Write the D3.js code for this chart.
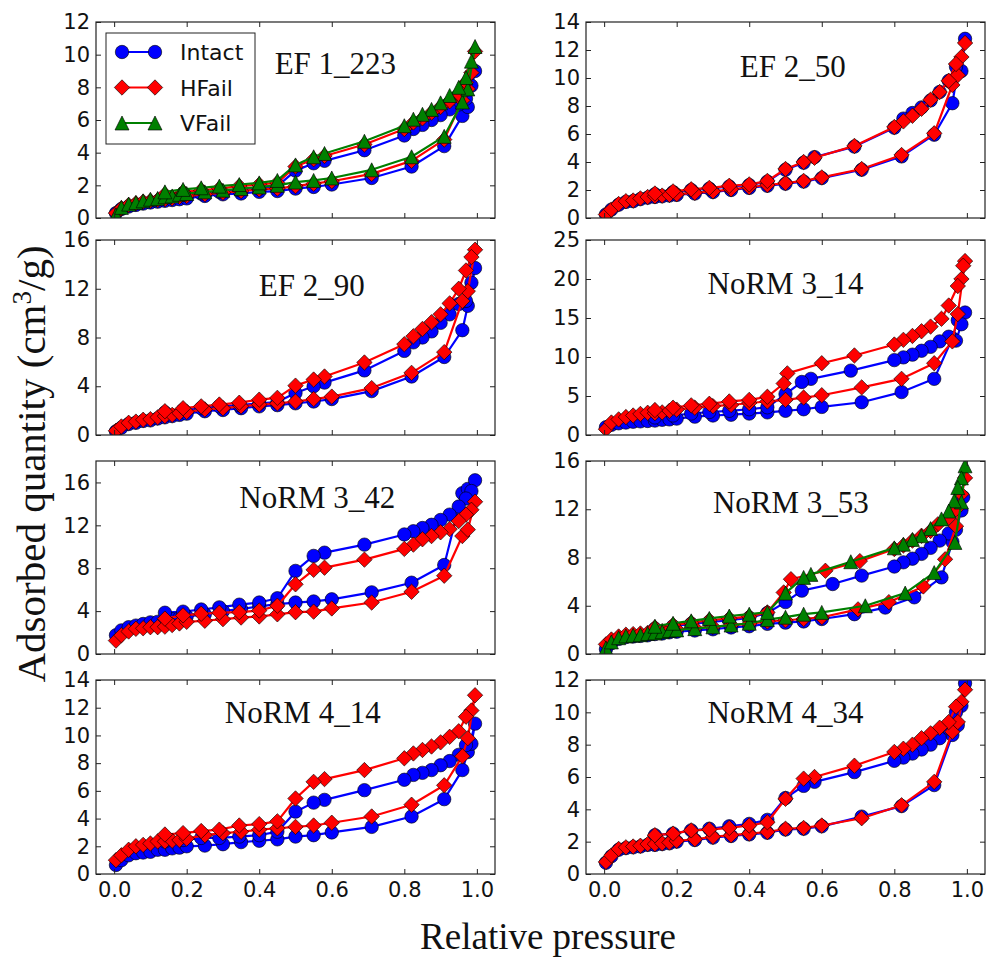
<!DOCTYPE html>
<html>
<head>
<meta charset="utf-8">
<script src="https://cdn.jsdelivr.net/npm/d3@7"></script>
<style>
  html, body { margin: 0; padding: 0; background: #fff; }
  svg { display: block; }
</style>
</head>
<body>
<svg id="chart" width="987" height="967"></svg>
<script>
// ---------- data ----------
const seriesNames = ["Intact", "HFail", "VFail"];
const panelNames = ["EF 1_223", "EF 2_50", "EF 2_90", "NoRM 3_14", "NoRM 3_42", "NoRM 3_53", "NoRM 4_14", "NoRM 4_34"];
const yMaxes = [12, 14, 16, 25, 18, 16, 14, 12];
const yTickSteps = [2, 2, 4, 5, 4, 4, 2, 2];
const yTickTops = [12, 14, 16, 25, 16, 16, 14, 12];
const xTickValues = [0.0, 0.2, 0.4, 0.6, 0.8, 1.0];

// relative pressure grids (adsorption then desorption)
const ADS_P = [0.005, 0.02, 0.04, 0.06, 0.08, 0.10, 0.12, 0.14, 0.16, 0.18, 0.20, 0.25, 0.30, 0.35, 0.40, 0.45, 0.50, 0.55, 0.60, 0.71, 0.82, 0.91, 0.96, 0.975, 0.995];
const DES_P = [0.985, 0.97, 0.95, 0.925, 0.90, 0.875, 0.85, 0.825, 0.80, 0.69, 0.58, 0.55, 0.50, 0.45, 0.40, 0.345, 0.29, 0.24, 0.19, 0.14];

// adsorbed quantity, cm3/g
const EF1_223 = {
  Intact: { ads: [0.3, 0.55, 0.7, 0.8, 0.88, 0.95, 1.0, 1.05, 1.1, 1.15, 1.2, 1.35, 1.45, 1.5, 1.6, 1.65, 1.8, 1.9, 2.05, 2.45, 3.15, 4.4, 6.25, 6.8, 9.0],
            des: [8.1, 7.3, 6.95, 6.65, 6.3, 6.0, 5.7, 5.45, 5.05, 4.15, 3.5, 3.35, 2.9, 1.95, 1.8, 1.7, 1.6, 1.5, 1.4, 1.25] },
  HFail:  { ads: [0.3, 0.6, 0.8, 0.9, 1.0, 1.05, 1.1, 1.15, 1.2, 1.3, 1.35, 1.45, 1.55, 1.65, 1.75, 1.8, 1.95, 2.1, 2.25, 2.7, 3.5, 4.8, 7.2, 7.9, 10.2],
            des: [8.9, 8.3, 7.6, 7.15, 6.8, 6.45, 6.1, 5.85, 5.45, 4.5, 3.8, 3.6, 3.15, 2.15, 2.05, 1.95, 1.8, 1.7, 1.6, 1.45] },
  VFail:  { ads: [0.2, 0.65, 0.85, 0.95, 1.05, 1.15, 1.2, 1.3, 1.35, 1.45, 1.5, 1.6, 1.7, 1.8, 1.9, 2.0, 2.2, 2.3, 2.45, 2.95, 3.75, 5.0, 7.1, 7.9, 10.5],
            des: [9.6, 8.6, 8.0, 7.5, 7.05, 6.65, 6.35, 6.05, 5.65, 4.7, 3.95, 3.75, 3.25, 2.3, 2.15, 2.05, 1.95, 1.85, 1.75, 1.6] }
};

const EF2_50 = {
  Intact: { ads: [0.25, 0.6, 0.95, 1.15, 1.2, 1.35, 1.45, 1.5, 1.55, 1.6, 1.65, 1.75, 1.85, 2.0, 2.15, 2.3, 2.45, 2.6, 2.85, 3.45, 4.4, 5.95, 8.2, 10.5, 12.8],
            des: [10.5, 10.8, 9.8, 9.0, 8.4, 7.9, 7.5, 7.1, 6.45, 5.1, 4.35, 3.95, 3.45, 2.6, 2.35, 2.25, 2.1, 2.0, 1.85, 1.7] },
  HFail:  { ads: [0.25, 0.6, 1.0, 1.2, 1.25, 1.4, 1.5, 1.55, 1.6, 1.65, 1.7, 1.8, 1.9, 2.05, 2.2, 2.35, 2.5, 2.65, 2.9, 3.5, 4.5, 6.05, 9.5, 10.2, 12.5],
            des: [11.5, 11.0, 9.8, 9.0, 8.45, 7.8, 7.3, 6.9, 6.5, 5.15, 4.3, 4.0, 3.5, 2.65, 2.4, 2.3, 2.15, 2.05, 1.9, 1.75] }
};

const EF2_90 = {
  Intact: { ads: [0.3, 0.6, 0.9, 1.0, 1.15, 1.2, 1.35, 1.45, 1.55, 1.65, 1.75, 1.95, 2.05, 2.2, 2.35, 2.45, 2.6, 2.75, 2.95, 3.6, 4.8, 6.4, 8.6, 10.6, 13.7],
            des: [12.5, 11.0, 10.75, 9.9, 9.2, 8.5, 8.0, 7.6, 6.9, 5.3, 4.3, 4.0, 3.45, 2.7, 2.6, 2.45, 2.35, 2.2, 2.05, 1.85] },
  HFail:  { ads: [0.35, 0.7, 1.0, 1.1, 1.25, 1.3, 1.45, 1.55, 1.65, 1.8, 1.9, 2.1, 2.2, 2.35, 2.5, 2.6, 2.75, 2.95, 3.15, 3.85, 5.1, 6.8, 11.0, 11.8, 15.2],
            des: [14.6, 13.5, 12.0, 10.8, 9.9, 9.25, 8.7, 8.1, 7.45, 5.95, 4.8, 4.55, 4.05, 3.05, 2.9, 2.65, 2.5, 2.35, 2.2, 1.95] }
};

const NoRM3_14 = {
  Intact: { ads: [1.0, 1.3, 1.5, 1.6, 1.7, 1.75, 1.8, 1.85, 1.95, 2.0, 2.1, 2.35, 2.5, 2.6, 2.75, 2.9, 3.1, 3.3, 3.6, 4.2, 5.5, 7.2, 12.4, 14.7, 15.7],
            desP: [0.985, 0.97, 0.95, 0.925, 0.90, 0.875, 0.85, 0.825, 0.80, 0.68, 0.57, 0.545, 0.50, 0.45, 0.40, 0.345, 0.29, 0.24, 0.19, 0.14],
            des: [14.2, 12.1, 12.6, 12.0, 11.3, 10.8, 10.3, 9.95, 9.6, 8.25, 7.2, 6.8, 5.25, 3.55, 3.3, 3.1, 2.95, 2.75, 2.5, 2.25] },
  HFail:  { ads: [0.75, 1.6, 2.0, 2.3, 2.5, 2.7, 2.85, 2.8, 2.9, 3.1, 3.25, 3.5, 3.7, 3.85, 4.1, 4.3, 4.5, 4.8, 5.1, 6.1, 7.2, 9.2, 12.0, 15.5, 22.3],
            desP: [0.99, 0.985, 0.975, 0.95, 0.93, 0.90, 0.875, 0.85, 0.825, 0.80, 0.69, 0.60, 0.505, 0.495, 0.45, 0.40, 0.345, 0.29, 0.24, 0.19, 0.14],
            des: [21.7, 20.0, 19.1, 16.6, 14.9, 13.9, 13.3, 12.7, 12.2, 11.6, 10.2, 9.2, 7.9, 6.6, 4.9, 4.5, 4.3, 4.0, 3.8, 3.5, 3.2] }
};

const NoRM3_42 = {
  Intact: { ads: [1.75, 2.2, 2.5, 2.65, 2.8, 2.95, 3.0, 3.1, 3.25, 3.35, 3.5, 3.7, 4.0, 4.2, 4.45, 4.65, 4.8, 4.9, 5.1, 5.75, 6.65, 8.3, 15.0, 15.4, 16.2],
            des: [15.2, 14.5, 13.75, 13.0, 12.5, 12.05, 11.75, 11.45, 11.15, 10.2, 9.45, 9.15, 7.75, 5.2, 4.8, 4.6, 4.35, 4.15, 3.95, 3.85] },
  HFail:  { ads: [1.25, 1.75, 2.1, 2.35, 2.4, 2.5, 2.5, 2.55, 2.7, 2.85, 3.0, 3.1, 3.25, 3.4, 3.5, 3.7, 3.9, 3.95, 4.25, 4.8, 5.8, 7.3, 11.0, 11.6, 14.2],
            des: [13.45, 13.0, 12.4, 11.65, 11.35, 11.0, 10.7, 10.2, 9.8, 8.8, 8.05, 7.85, 6.5, 4.5, 4.05, 3.9, 3.85, 3.75, 3.6, 3.3] }
};

const NoRM3_53 = {
  Intact: { adsP: [0.005, 0.02, 0.04, 0.06, 0.08, 0.10, 0.12, 0.14, 0.16, 0.18, 0.20, 0.25, 0.30, 0.35, 0.40, 0.45, 0.50, 0.55, 0.60, 0.69, 0.775, 0.855, 0.93, 0.96, 0.99],
            ads: [0.4, 0.9, 1.25, 1.4, 1.45, 1.5, 1.55, 1.65, 1.7, 1.8, 1.85, 1.95, 2.05, 2.2, 2.3, 2.5, 2.6, 2.7, 2.9, 3.3, 3.85, 4.7, 6.35, 9.3, 13.0],
            desP: [0.985, 0.97, 0.95, 0.925, 0.90, 0.875, 0.85, 0.825, 0.80, 0.71, 0.63, 0.545, 0.50, 0.45, 0.40, 0.345, 0.29, 0.24, 0.19, 0.14],
            des: [11.9, 10.3, 10.0, 9.4, 8.8, 8.3, 7.9, 7.6, 7.25, 6.5, 5.8, 5.25, 4.3, 3.4, 3.0, 2.8, 2.65, 2.5, 2.3, 2.1] },
  HFail:  { adsP: [0.005, 0.02, 0.04, 0.06, 0.08, 0.10, 0.12, 0.14, 0.16, 0.18, 0.20, 0.25, 0.30, 0.35, 0.40, 0.45, 0.50, 0.55, 0.60, 0.70, 0.785, 0.88, 0.94, 0.97, 0.995],
            ads: [0.8, 1.2, 1.45, 1.6, 1.65, 1.7, 1.75, 1.85, 1.9, 2.0, 2.05, 2.15, 2.25, 2.4, 2.5, 2.7, 2.8, 2.9, 3.05, 3.7, 4.3, 5.6, 7.85, 10.6, 14.6],
            desP: [0.985, 0.97, 0.95, 0.92, 0.90, 0.875, 0.85, 0.825, 0.80, 0.705, 0.61, 0.515, 0.495, 0.45, 0.40, 0.345, 0.29, 0.24, 0.19, 0.14],
            des: [13.25, 12.0, 11.3, 10.75, 10.2, 9.8, 9.4, 9.0, 8.7, 7.7, 6.9, 6.2, 5.1, 3.45, 3.1, 2.95, 2.8, 2.6, 2.4, 2.2] },
  VFail:  { adsP: [0.005, 0.02, 0.04, 0.06, 0.08, 0.10, 0.12, 0.14, 0.16, 0.18, 0.20, 0.25, 0.30, 0.35, 0.40, 0.45, 0.50, 0.55, 0.60, 0.72, 0.83, 0.91, 0.967, 0.985, 0.995],
            ads: [0.5, 1.0, 1.35, 1.5, 1.55, 1.6, 1.7, 1.75, 1.85, 1.95, 2.0, 2.1, 2.25, 2.4, 2.55, 2.85, 3.05, 3.3, 3.45, 4.0, 5.05, 6.75, 9.25, 12.6, 15.6],
            desP: [0.985, 0.975, 0.965, 0.95, 0.93, 0.90, 0.875, 0.85, 0.825, 0.80, 0.68, 0.57, 0.55, 0.50, 0.45, 0.40, 0.345, 0.29, 0.24, 0.19, 0.14],
            des: [14.6, 13.8, 12.7, 11.85, 11.2, 10.4, 9.8, 9.5, 9.1, 8.8, 7.65, 6.6, 6.35, 5.05, 3.45, 3.3, 3.15, 2.95, 2.75, 2.55, 2.3] }
};

const NoRM4_14 = {
  Intact: { ads: [0.65, 1.0, 1.35, 1.5, 1.55, 1.6, 1.75, 1.75, 1.85, 1.9, 2.0, 2.05, 2.15, 2.3, 2.4, 2.5, 2.7, 2.8, 3.0, 3.4, 4.15, 5.4, 7.5, 8.8, 10.85],
            des: [9.4, 9.3, 8.6, 8.15, 7.85, 7.5, 7.3, 7.15, 6.8, 6.05, 5.35, 5.15, 4.5, 3.05, 2.8, 2.7, 2.6, 2.6, 2.45, 2.35] },
  HFail:  { ads: [1.0, 1.35, 1.75, 2.0, 2.1, 2.2, 2.35, 2.35, 2.4, 2.45, 2.55, 2.8, 2.95, 3.05, 3.2, 3.3, 3.4, 3.5, 3.7, 4.15, 5.0, 6.4, 8.5, 9.8, 12.9],
            des: [11.8, 11.35, 10.3, 9.9, 9.5, 9.2, 8.95, 8.7, 8.35, 7.5, 6.85, 6.65, 5.45, 3.8, 3.6, 3.5, 3.2, 3.1, 2.95, 2.85] }
};

const NoRM4_34 = {
  Intact: { ads: [0.7, 1.1, 1.5, 1.6, 1.65, 1.7, 1.8, 1.8, 1.85, 1.9, 2.0, 2.1, 2.25, 2.35, 2.45, 2.55, 2.75, 2.8, 2.95, 3.55, 4.2, 5.5, 8.6, 9.2, 11.8],
            des: [10.4, 10.0, 9.0, 8.4, 8.0, 7.7, 7.45, 7.2, 7.0, 6.3, 5.7, 5.45, 4.7, 3.35, 3.1, 2.95, 2.8, 2.7, 2.5, 2.4] },
  HFail:  { ads: [0.75, 1.15, 1.55, 1.65, 1.7, 1.75, 1.85, 1.85, 1.9, 1.95, 2.05, 2.15, 2.3, 2.4, 2.5, 2.6, 2.8, 2.85, 3.0, 3.45, 4.25, 5.7, 8.8, 9.4, 11.4],
            des: [10.65, 10.35, 9.4, 9.05, 8.7, 8.4, 8.0, 7.75, 7.55, 6.7, 6.0, 5.9, 4.65, 3.2, 3.0, 2.85, 2.75, 2.7, 2.5, 2.4] }
};

const panelSeries = [EF1_223, EF2_50, EF2_90, NoRM3_14, NoRM3_42, NoRM3_53, NoRM4_14, NoRM4_34];

// ---------- layout ----------
const W = 987, H = 967;
const colX = [[96, 495], [586, 985]];
const rowY = [[22, 218], [240, 435], [461, 654], [680, 874]];
// panel label anchor: x in pressure units, baseline offset from panel top in px
const titleAnchor = [[0.61, 52], [0.52, 55], [0.545, 56], [0.50, 54], [0.56, 47], [0.515, 52], [0.52, 43], [0.50, 43]];

const colors = { Intact: "#0000ff", HFail: "#ff0000", VFail: "#008000" };
const SANS = "'DejaVu Sans', 'Bitstream Vera Sans', sans-serif";
const SERIF = "'Liberation Serif', 'Times New Roman', serif";

const markerPath = {
  Intact: d3.symbol().type(d3.symbolCircle).size(Math.PI * 6.7 * 6.7)(),
  HFail: "M0,-7.7L7.7,0L0,7.7L-7.7,0Z",
  VFail: "M0,-7L7,7L-7,7Z"
};

const svg = d3.select("#chart");
svg.append("rect").attr("width", W).attr("height", H).attr("fill", "#fff");
const defs = svg.append("defs");

function seriesPoints(s) {
  const aP = s.adsP || ADS_P, dP = s.desP || DES_P;
  const a = aP.slice(0, s.ads.length).map((p, i) => [p, s.ads[i]]);
  const d = dP.slice(0, s.des.length).map((p, i) => [p, s.des[i]]);
  return a.concat(d);
}

panelNames.forEach((name, i) => {
  const col = i % 2, row = Math.floor(i / 2);
  const [x0, x1] = colX[col], [y0, y1] = rowY[row];
  const x = d3.scaleLinear().domain([-0.05, 1.05]).range([x0, x1]);
  const y = d3.scaleLinear().domain([0, yMaxes[i]]).range([y1, y0]);
  const yTicks = d3.range(0, yTickTops[i] + 0.001, yTickSteps[i]);
  const g = svg.append("g").attr("class", "panel");

  const clipId = "clip" + i;
  defs.append("clipPath").attr("id", clipId)
    .append("rect").attr("x", x0).attr("y", y0).attr("width", x1 - x0).attr("height", y1 - y0);

  // series: line then markers, drawn in order Intact, HFail, VFail
  const plot = g.append("g").attr("clip-path", `url(#${clipId})`);
  const line = d3.line().x(d => x(d[0])).y(d => y(d[1]));
  const data = panelSeries[i];
  seriesNames.forEach(sn => {
    if (!data[sn]) return;
    const pts = seriesPoints(data[sn]);
    plot.append("path").attr("d", line(pts))
      .attr("fill", "none").attr("stroke", colors[sn]).attr("stroke-width", 2.2)
      .attr("stroke-linejoin", "round");
    plot.append("g").selectAll("path").data(pts).join("path")
      .attr("d", markerPath[sn])
      .attr("transform", d => `translate(${x(d[0])},${y(d[1])})`)
      .attr("fill", colors[sn])
      .attr("stroke", "rgba(0,0,0,0.7)").attr("stroke-width", 0.9);
  });

  // axes with inward ticks on all four sides
  const styleAxis = sel => {
    sel.select(".domain").remove();
    sel.selectAll(".tick line").attr("stroke", "#222").attr("stroke-width", 1);
    sel.selectAll(".tick text").attr("fill", "#111")
      .style("font-family", SANS).style("font-size", "21px");
  };
  g.append("g").attr("transform", `translate(${x0},0)`)
    .call(d3.axisLeft(y).tickValues(yTicks).tickSize(-5).tickPadding(6).tickFormat(d3.format("d")))
    .call(styleAxis);
  g.append("g").attr("transform", `translate(${x1},0)`)
    .call(d3.axisRight(y).tickValues(yTicks).tickSize(-5).tickFormat(""))
    .call(styleAxis);
  g.append("g").attr("transform", `translate(0,${y1})`)
    .call(d3.axisBottom(x).tickValues(xTickValues).tickSize(-5).tickPadding(8)
      .tickFormat(row === 3 ? d3.format(".1f") : ""))
    .call(styleAxis);
  g.append("g").attr("transform", `translate(0,${y0})`)
    .call(d3.axisTop(x).tickValues(xTickValues).tickSize(-5).tickFormat(""))
    .call(styleAxis);

  // frame
  g.append("rect").attr("x", x0).attr("y", y0).attr("width", x1 - x0).attr("height", y1 - y0)
    .attr("fill", "none").attr("stroke", "#222").attr("stroke-width", 1.2);

  // sample label
  g.append("text")
    .attr("x", x(titleAnchor[i][0])).attr("y", y0 + titleAnchor[i][1])
    .attr("text-anchor", "middle")
    .style("font-family", SERIF).style("font-size", "31px").attr("fill", "#111")
    .text(name);

  // legend in the first panel
  if (i === 0) {
    const lg = g.append("g");
    lg.append("rect").attr("x", 106).attr("y", 33).attr("width", 149).attr("height", 111)
      .attr("fill", "#fff").attr("stroke", "#222").attr("stroke-width", 1);
    seriesNames.forEach((sn, k) => {
      const cy = 52 + k * 35.5;
      lg.append("line").attr("x1", 122).attr("x2", 155).attr("y1", cy).attr("y2", cy)
        .attr("stroke", colors[sn]).attr("stroke-width", 2.2);
      [122, 155].forEach(cx => lg.append("path").attr("d", markerPath[sn])
        .attr("transform", `translate(${cx},${cy})`)
        .attr("fill", colors[sn]).attr("stroke", "rgba(0,0,0,0.7)").attr("stroke-width", 0.9));
      lg.append("text").attr("x", 180).attr("y", cy + 8)
        .style("font-family", SANS).style("font-size", "22px").attr("fill", "#111")
        .text(sn);
    });
  }
});

// shared axis titles
svg.append("text")
  .attr("x", 548).attr("y", 949).attr("text-anchor", "middle")
  .style("font-family", SERIF).style("font-size", "37px").attr("fill", "#111")
  .text("Relative pressure");

const yl = svg.append("text")
  .attr("transform", "translate(45,464) rotate(-90)")
  .attr("text-anchor", "middle")
  .style("font-family", SERIF).style("font-size", "41px").attr("fill", "#111");
yl.append("tspan").text("Adsorbed quantity (cm");
yl.append("tspan").attr("dy", -14).style("font-size", "27px").text("3");
yl.append("tspan").attr("dy", 14).text("/g)");
</script>
</body>
</html>
